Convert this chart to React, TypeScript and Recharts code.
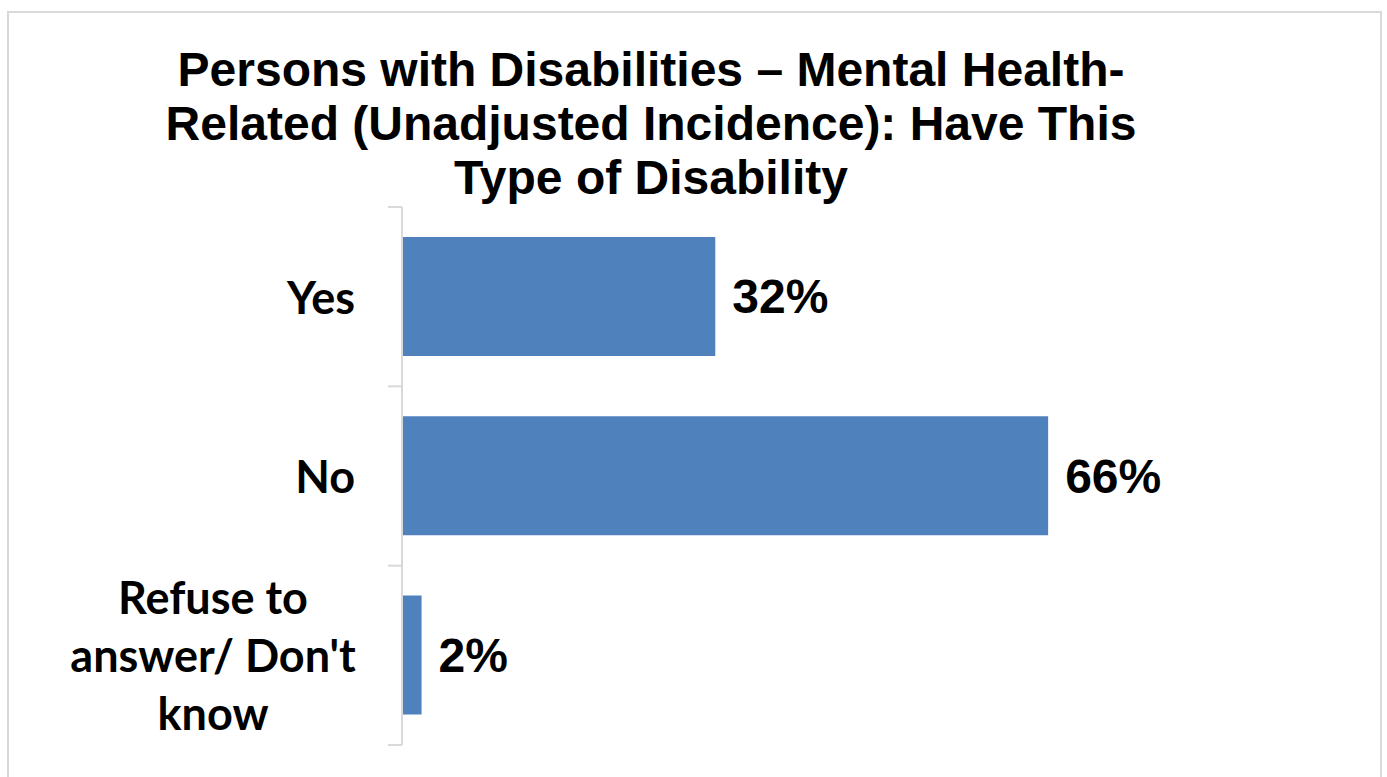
import { BarChart, Bar, XAxis, YAxis, LabelList } from "recharts";

const categories = ["Yes", "No", "Refuse to answer/ Don't know"];
const shares = [32, 66, 2];
const titleLines = [
  "Persons with Disabilities \u2013 Mental Health-",
  "Related (Unadjusted Incidence): Have This",
  "Type of Disability",
];
const wrappedLabels: Record<string, string[]> = {
  "Refuse to answer/ Don't know": ["Refuse to", "answer/ Don't", "know"],
};

const data = categories.map((name, i) => ({ name, value: shares[i] }));

const BAR_BLUE = "#4f81bd";
const AXIS_GREY = "#d9d9d9";

// label text + tick marks at the band edges (Excel style)
const renderCategoryTick = (props: any) => {
  const { x, y, payload, index, visibleTicksCount } = props;
  const half = payload?.offset ?? 0;
  const label = payload?.value ?? "";
  const lines = wrappedLabels[label];
  const style = { fontFamily: "Lato", fontWeight: 700, fontSize: 45, fill: "#000" };
  const isLast = index === visibleTicksCount - 1;
  return (
    <g>
      <line x1={x - 14} x2={x} y1={y - half} y2={y - half} stroke={AXIS_GREY} strokeWidth={2} />
      {isLast && <line x1={x - 14} x2={x} y1={y + half} y2={y + half} stroke={AXIS_GREY} strokeWidth={2} />}
      {!lines ? (
        <text x={x - 47} y={y} textAnchor="end" dominantBaseline="central" style={style}>
          {label}
        </text>
      ) : (
        <text x={x - 189} y={y} textAnchor="middle" style={style}>
          {lines.map((line, i) => (
            <tspan key={line} x={x - 189} y={y + (i - (lines.length - 1) / 2) * 58} dominantBaseline="central">
              {line}
            </tspan>
          ))}
        </text>
      )}
    </g>
  );
};

export default function App() {
  return (
    <div style={{ position: "relative", width: 1387, height: 777, overflow: "hidden", background: "#fff" }}>
      <style>{`body{margin:0}`}</style>
      <div
        style={{
          position: "absolute",
          left: 7,
          top: 11,
          width: 1371,
          height: 800,
          border: `2px solid ${AXIS_GREY}`,
        }}
      />
      <div
        style={{
          position: "absolute",
          left: 151,
          top: 43,
          width: 1000,
          textAlign: "center",
          fontFamily: "'Liberation Sans', Arial, sans-serif",
          fontWeight: 700,
          fontSize: 48,
          lineHeight: "54px",
          color: "#000",
        }}
      >
        {titleLines.map((line) => (
          <div key={line}>{line}</div>
        ))}
      </div>
      <div style={{ position: "absolute", left: 0, top: 0 }}>
        <BarChart
          width={1387}
          height={777}
          data={data}
          layout="vertical"
          barCategoryGap="16.7%"
          margin={{ top: 207, right: 6, bottom: 32, left: 386 }}
        >
          <XAxis type="number" domain={[0, 100]} hide />
          <YAxis
            type="category"
            dataKey="name"
            width={16}
            tickSize={0}
            tickMargin={0}
            axisLine={{ stroke: AXIS_GREY, strokeWidth: 2 }}
            tickLine={false}
            tick={renderCategoryTick}
            interval={0}
          />
          <Bar dataKey="value" fill={BAR_BLUE} isAnimationActive={false}>
            <LabelList
              dataKey="value"
              position="right"
              offset={17}
              formatter={(v: number) => `${v}%`}
              style={{
                fontFamily: "'Liberation Sans', Arial, sans-serif",
                fontWeight: 700,
                fontSize: 48,
                fill: "#000",
              }}
            />
          </Bar>
        </BarChart>
      </div>
    </div>
  );
}
